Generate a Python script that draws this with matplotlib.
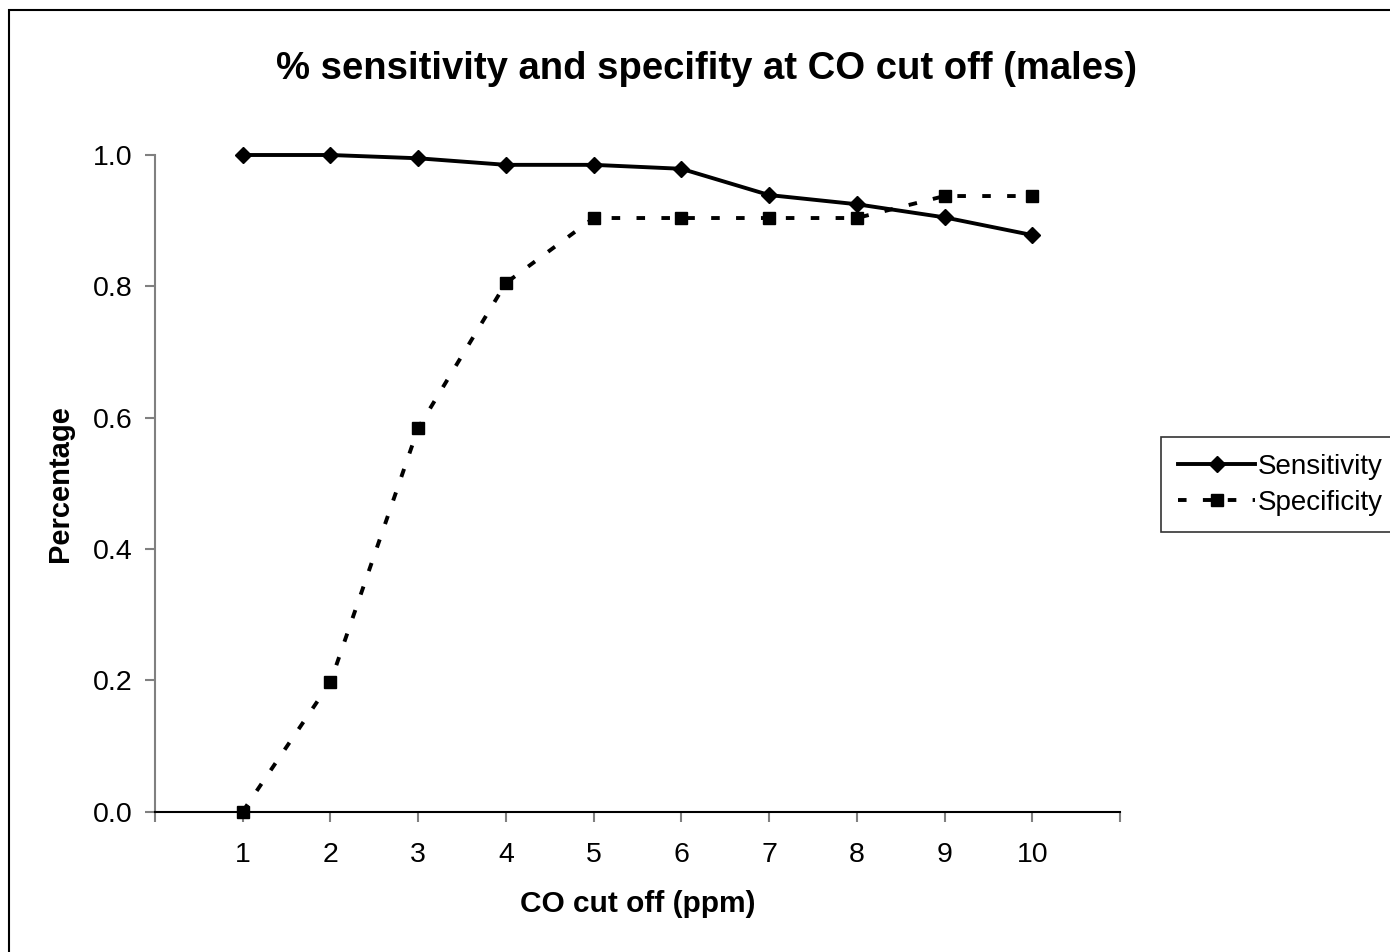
import matplotlib.pyplot as plt
from matplotlib.patches import Rectangle

plt.rcParams['font.family'] = ['Liberation Sans', 'DejaVu Sans']

# --------------------------------
# Data
# --------------------------------
cutoff = [1, 2, 3, 4, 5, 6, 7, 8, 9, 10]
sensitivity = [1.0, 1.0, 0.995, 0.985, 0.985, 0.979, 0.939, 0.925, 0.905, 0.878]
specificity = [0.0, 0.197, 0.584, 0.805, 0.904, 0.904, 0.904, 0.904, 0.9375, 0.9375]
y_ticks = [0.0, 0.2, 0.4, 0.6, 0.8, 1.0]

# --------------------------------
# Plot
# --------------------------------
fig = plt.figure(figsize=(13.9, 9.52), dpi=100)
ax = fig.add_axes([155 / 1390, 1 - 811.5 / 952, 965 / 1390, 656.5 / 952])

ax.plot(cutoff, sensitivity, color='black', linewidth=2.8, marker='D',
        markersize=8.5, label='Sensitivity', clip_on=False, zorder=3)
ax.plot(cutoff, specificity, color='black', linewidth=2.8, marker='s',
        markersize=8.5, dashes=(2.2, 4.2), label='Specificity', clip_on=False, zorder=3)

ax.set_xlim(0, 11)
ax.set_ylim(0, 1.0)
ax.set_xticks(range(0, 12))
ax.set_xticklabels([''] + [str(c) for c in cutoff] + [''])
ax.set_yticks(y_ticks)
ax.set_yticklabels([f"{v:.1f}" for v in y_ticks])

for side in ['top', 'right']:
    ax.spines[side].set_visible(False)
ax.spines['left'].set_color('#808080')
ax.spines['left'].set_linewidth(1.5)
ax.spines['bottom'].set_color('black')
ax.spines['bottom'].set_linewidth(1.5)
ax.tick_params(axis='both', colors='#808080', labelcolor='black',
               labelsize=20.5, length=7, width=1.5)
ax.tick_params(axis='x', pad=15)
ax.tick_params(axis='y', pad=9)

ax.set_xlabel("CO cut off (ppm)", fontsize=21.5, fontweight='bold', labelpad=16)
ax.set_ylabel("Percentage", fontsize=21, fontweight='bold', labelpad=14)
fig.text(707 / 1390, 1 - 69 / 952, "% sensitivity and specifity at CO cut off (males)",
         fontsize=27.5, fontweight='bold', ha='center', va='center')

leg = fig.legend(loc='upper left', bbox_to_anchor=(1161 / 1390, 1 - 437 / 952),
                 fontsize=20, frameon=True, fancybox=False, handlelength=2.8,
                 handletextpad=0.08, borderpad=0.6, labelspacing=0.36,
                 borderaxespad=0)
leg.get_frame().set_edgecolor('black')
leg.get_frame().set_linewidth(1.2)

# chart border
fig.patches.append(Rectangle((9 / 1390, -0.1), 1.1, 1.1 - 10 / 952, transform=fig.transFigure,
                             fill=False, edgecolor='black', linewidth=1.5))

plt.savefig("out.png", dpi=100)
